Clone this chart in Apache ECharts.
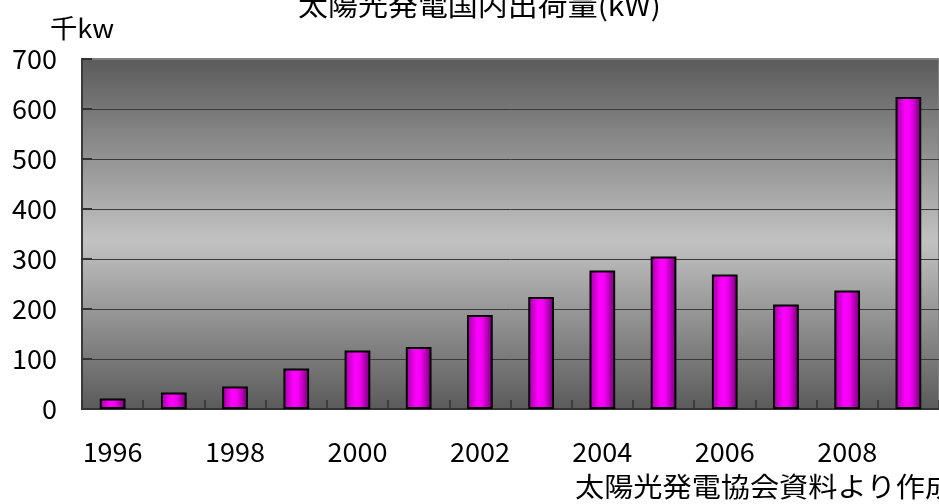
<!DOCTYPE html>
<html>
<head>
<meta charset="utf-8">
<script src="https://cdn.jsdelivr.net/npm/echarts@6/dist/echarts.min.js"></script>
<style>
html,body{margin:0;padding:0;background:#fff;}
#c{width:939px;height:504px;}
</style>
</head>
<body>
<div id="c"></div>
<script>
const years = ['1996','1997','1998','1999','2000','2001','2002','2003','2004','2005','2006','2007','2008','2009'];
const shipments = [21, 33, 45, 81, 117, 124, 188, 224, 277, 305, 269, 209, 237, 624];
const titleText = '太陽光発電国内出荷量(kW)';
const unitText = '千kw';
const sourceText = '太陽光発電協会資料より作成';

const FONT = '"Noto Sans CJK JP", "Noto Sans", sans-serif';
const chart = echarts.init(document.getElementById('c'), null, {renderer: 'canvas'});

chart.setOption({
  animation: false,
  backgroundColor: '#ffffff',
  grid: {
    left: 82, top: 59, right: 0, bottom: 95,
    show: true,
    borderColor: '#808080',
    borderWidth: 2,
    backgroundColor: {
      type: 'linear', x: 0, y: 0, x2: 0, y2: 1,
      colorStops: [
        {offset: 0, color: '#5a5a5a'},
        {offset: 0.52, color: '#c2c2c2'},
        {offset: 1, color: '#5a5a5a'}
      ]
    }
  },
  xAxis: {
    type: 'category',
    data: years,
    axisLine: {lineStyle: {color: '#333333', width: 2}},
    axisTick: {show: true, inside: true, length: 9, interval: 0, lineStyle: {color: '#333333', width: 1.5}},
    axisLabel: {interval: 1, color: '#000', fontSize: 27, fontFamily: FONT, margin: 29}
  },
  yAxis: {
    type: 'value',
    min: 0, max: 700, interval: 100,
    axisLine: {show: true, lineStyle: {color: '#3a3a3a', width: 2}},
    axisTick: {show: true, inside: true, length: 10, lineStyle: {color: '#333333', width: 2}},
    splitLine: {show: true, lineStyle: {color: ['#3a3a3a','#3a3a3a','#3a3a3a','#3a3a3a','#3a3a3a','#3a3a3a','#3a3a3a','#7f7f7f'], width: 1}},
    axisLabel: {color: '#000', fontSize: 27, fontFamily: FONT, margin: 25}
  },
  series: [{
    type: 'bar',
    data: shipments,
    barWidth: '42%',
    itemStyle: {
      borderColor: '#000',
      borderWidth: 2,
      color: {
        type: 'linear', x: 0, y: 0, x2: 1, y2: 0,
        colorStops: [
          {offset: 0, color: '#a000a0'},
          {offset: 0.4, color: '#ff00ff'},
          {offset: 0.6, color: '#f000f0'},
          {offset: 1, color: '#6e006e'}
        ]
      }
    }
  }],
  graphic: [
    {type: 'text', x: 298, y: 6, scaleX: 1.11,
     style: {text: titleText, fontSize: 27, fontFamily: FONT, fill: '#000', align: 'left', verticalAlign: 'middle'}},
    {type: 'text', x: 50, y: 28, scaleX: 1.05,
     style: {text: unitText, fontSize: 26, fontFamily: FONT, fill: '#000', align: 'left', verticalAlign: 'middle'}},
    {type: 'text', x: 575, y: 487, scaleX: 1.08,
     style: {text: sourceText, fontSize: 27, fontFamily: FONT, fill: '#000', align: 'left', verticalAlign: 'middle'}}
  ]
});
</script>
</body>
</html>
